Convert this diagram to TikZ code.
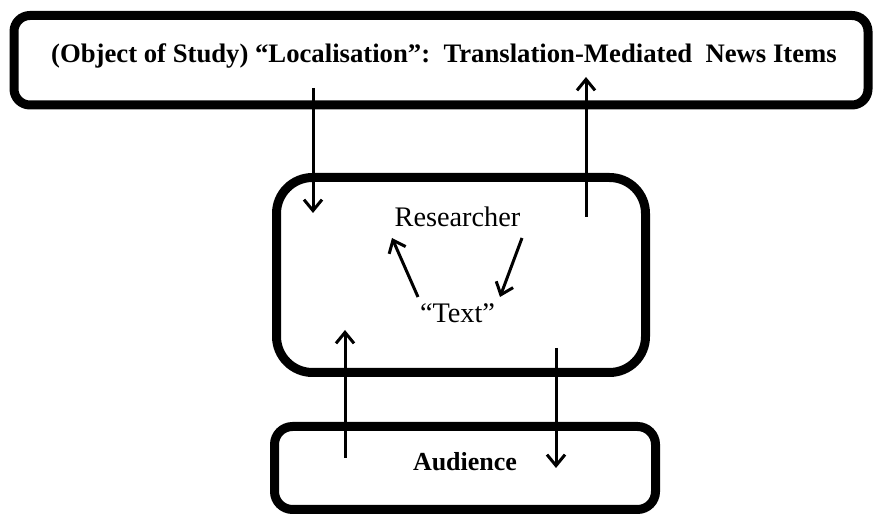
\documentclass[tikz,border=0pt]{standalone}
\usepackage{fontspec}
\setmainfont{Liberation Serif}
\usetikzlibrary{arrows.meta}
\begin{document}
\begin{tikzpicture}[x=1pt,y=1pt,
  box/.style={draw=black, line width=9pt, rounded corners=#1, inner sep=0pt},
  lbl/.style={anchor=base, inner sep=0pt, font=\fontsize{26}{30}\selectfont},
  arr/.style={line width=3pt, -{Straight Barb[length=11pt,width=18pt,line width=3pt]}}]
\useasboundingbox (0,0) rectangle (876,514);
\node[box=16pt, minimum width=854pt, minimum height=89.5pt] (top) at (441,453.75) {};
\node[box=36pt, minimum width=369pt, minimum height=195pt] (mid) at (461,239) {};
\node[box=18pt, minimum width=381pt, minimum height=83pt] (bot) at (465,46) {};
\node[lbl, font=\fontsize{26.7}{30}\selectfont\bfseries] (toptext) at (444,451) {(Object of Study) “Localisation”:\ \ Translation-Mediated\ \ News Items};
\node[lbl, font=\fontsize{28.3}{30}\selectfont] (res) at (457.5,287) {Researcher};
\node[lbl, font=\fontsize{28.3}{30}\selectfont] (txt) at (457.5,191) {“Text”};
\node[lbl, font=\fontsize{26}{30}\selectfont\bfseries] (aud) at (465,43) {Audience};
\coordinate (a1s) at (313,426); \coordinate (a1e) at (313,301);
\coordinate (a2s) at (586,297); \coordinate (a2e) at (586,437);
\coordinate (a3s) at (418,217); \coordinate (a3e) at (392,276);
\coordinate (a4s) at (522,276); \coordinate (a4e) at (500,217);
\coordinate (a5s) at (345,56);  \coordinate (a5e) at (345,184);
\coordinate (a6s) at (556,166); \coordinate (a6e) at (556,46);
\draw[arr] (a1s) -- (a1e);
\draw[arr] (a2s) -- (a2e);
\draw[arr] (a3s) -- (a3e);
\draw[arr] (a4s) -- (a4e);
\draw[arr] (a5s) -- (a5e);
\draw[arr] (a6s) -- (a6e);
\end{tikzpicture}
\end{document}
